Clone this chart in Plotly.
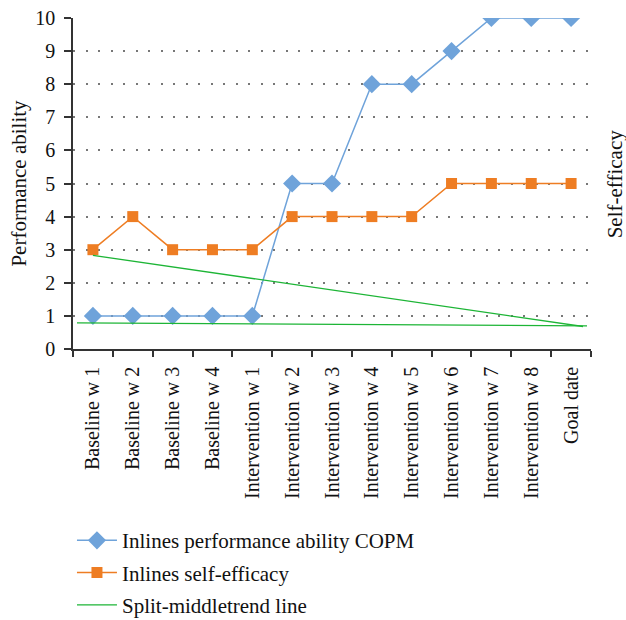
import plotly.graph_objects as go

# categories and values
weeks = ["Baseline w 1", "Baseline w 2", "Baseline w 3", "Baseline w 4",
         "Intervention w 1", "Intervention w 2", "Intervention w 3", "Intervention w 4",
         "Intervention w 5", "Intervention w 6", "Intervention w 7", "Intervention w 8",
         "Goal date"]
copm = [1, 1, 1, 1, 1, 5, 5, 8, 8, 9, 10, 10, 10]
self_eff = [3, 4, 3, 3, 3, 4, 4, 4, 4, 5, 5, 5, 5]

# split-middle trend lines (positions in category units)
trend_x = [0, 12.3]
trend_y = [2.83, 0.68]
flat_x = [-0.4, 12.4]
flat_y = [0.79, 0.70]

pos = list(range(len(weeks)))
font_fam = "Liberation Serif"

fig = go.Figure()
fig.add_trace(go.Scatter(
    x=pos, y=copm, mode="lines+markers", name="Inlines performance ability COPM",
    line=dict(color="#6FA3DA", width=1.5),
    marker=dict(symbol="diamond", size=14, color="#6FA3DA"),
    legendgroup="a"))
fig.add_trace(go.Scatter(
    x=pos, y=self_eff, mode="lines+markers", name="Inlines self-efficacy",
    line=dict(color="#EE7D23", width=1.5),
    marker=dict(symbol="square", size=11, color="#EE7D23"),
    legendgroup="b"))
fig.add_trace(go.Scatter(
    x=trend_x, y=trend_y, mode="lines", name="Split-middletrend line",
    line=dict(color="#1DB536", width=1.3), legendgroup="c"))
fig.add_trace(go.Scatter(
    x=flat_x, y=flat_y, mode="lines", showlegend=False,
    line=dict(color="#1DB536", width=1.3), legendgroup="c"))

fig.update_layout(
    width=626, height=620,
    margin=dict(l=73, r=35, t=18, b=271, autoexpand=False),
    plot_bgcolor="white", paper_bgcolor="white",
    font=dict(family=font_fam, size=21, color="#111"),
    showlegend=True,
    legend=dict(x=-0.002, xanchor="left", y=-0.517, yanchor="top",
                font=dict(size=21), tracegroupgap=2, itemwidth=40),
    xaxis=dict(
        range=[-0.5, 12.5], tickmode="array", tickvals=pos, ticktext=weeks,
        tickangle=-90, ticks="", showgrid=False, zeroline=False,
        showline=True, linecolor="#333", linewidth=1.5, automargin=False,
        tickfont=dict(size=20), ticklabelstandoff=8,
        minor=dict(tickmode="array", tickvals=[i - 0.5 for i in range(len(weeks) + 1)],
                   ticks="outside", ticklen=6, tickcolor="#333", tickwidth=1.5,
                   showgrid=False),
    ),
    yaxis=dict(
        range=[0, 10], dtick=1, ticks="outside", ticklen=7, tickcolor="#333",
        tickwidth=1.5, showline=True, linecolor="#333", linewidth=1.5,
        showgrid=True, gridcolor="#777", griddash="2px,10.5px", gridwidth=1.5,
        zeroline=False, tickfont=dict(size=20), automargin=False,
        ticklabelstandoff=5,
        title=dict(text="Performance ability", font=dict(size=21), standoff=3),
    ),
    annotations=[dict(
        text="Self-efficacy", xref="paper", yref="paper", x=1.046, y=0.5,
        textangle=-90, showarrow=False, font=dict(size=21),
        xanchor="center", yanchor="middle")],
)

# drop the default page margin so the figure sits at the window's corner
fig.write_html("out.html", config={"displayModeBar": False},
               post_script="document.body.style.margin='0';")
